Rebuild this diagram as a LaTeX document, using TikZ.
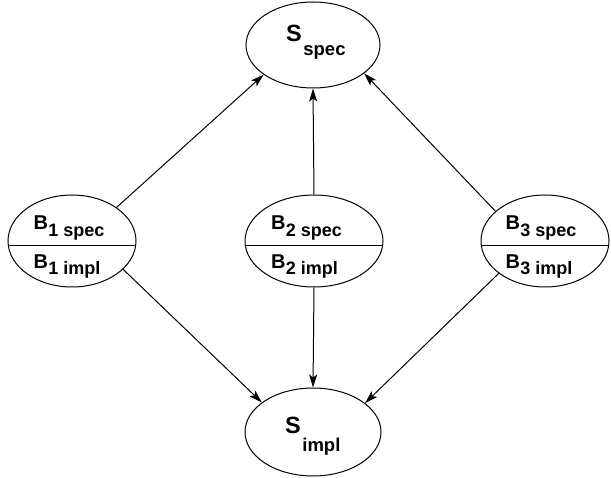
\documentclass[tikz,border=0pt]{standalone}
\usepackage{fontspec}
\setmainfont{Liberation Sans}
\usetikzlibrary{shapes.geometric,arrows.meta}
\begin{document}
\begin{tikzpicture}[x=1pt,y=-1pt,
  oval/.style={draw, ellipse, line width=1pt, inner sep=0pt},
  lbl/.style={inner sep=0pt, anchor=base west, font=\bfseries},
  arr/.style={line width=1pt, -{Stealth[length=13pt,width=8pt,inset=3pt]}},
  div/.style={line width=1pt}]
\useasboundingbox[fill=white] (0,0) rectangle (611,478);
% ovals
\node[oval, minimum width=134pt, minimum height=86pt] (sspec) at (313,45) {};
\node[oval, minimum width=136pt, minimum height=88pt] (simpl) at (313,432) {};
\node[oval, minimum width=128pt, minimum height=92pt] (b1) at (72,241) {};
\node[oval, minimum width=138pt, minimum height=92pt] (b2) at (314,241) {};
\node[oval, minimum width=128pt, minimum height=92pt] (b3) at (545,241) {};
% dividers
\foreach \n/\rx in {b1/64, b2/69, b3/64} {
  \begin{scope}
    \clip (\n.center) ellipse [x radius=\rx pt, y radius=46pt];
    \draw[div] ([xshift=-5pt,yshift=-5pt]\n.west) -- ([xshift=5pt,yshift=-5pt]\n.east);
  \end{scope}
}
% labels
\node[lbl] (tsl) at (286,42) {\fontsize{23.5}{23.5}\selectfont S\hspace{1.5pt}\raisebox{-13.5pt}{\fontsize{18.5}{18.5}\selectfont spec}};
\node[lbl] (bsl) at (285,434) {\fontsize{23.5}{23.5}\selectfont S\hspace{1.5pt}\raisebox{-17.5pt}{\fontsize{18.5}{18.5}\selectfont impl}};
\foreach \n/\x/\i in {b1s/33.5/1, b2s/271/2, b3s/505.5/3} {
  \node[lbl] (\n) at (\x,229.5) {\fontsize{20}{20}\selectfont B\hspace{0.3pt}\raisebox{-7pt}{\fontsize{18}{18}\selectfont \i\ spec}};
}
\foreach \n/\x/\i in {b1i/33.5/1, b2i/271/2, b3i/505.5/3} {
  \node[lbl] (\n) at (\x,268.3) {\fontsize{20}{20}\selectfont B\hspace{0.3pt}\raisebox{-6.5pt}{\fontsize{18}{18}\selectfont \i\ impl}};
}
% arrows
\draw[arr] (b1.37) -- (sspec.211.5);
\draw[arr] (b2.north) -- (sspec.south);
\draw[arr] (b3.149) -- (sspec.331);
\draw[arr] (b1.-29.5) -- (simpl.150);
\draw[arr] (b2.south) -- (simpl.north);
\draw[arr] (b3.215.5) -- (simpl.29.6);
\end{tikzpicture}
\end{document}
